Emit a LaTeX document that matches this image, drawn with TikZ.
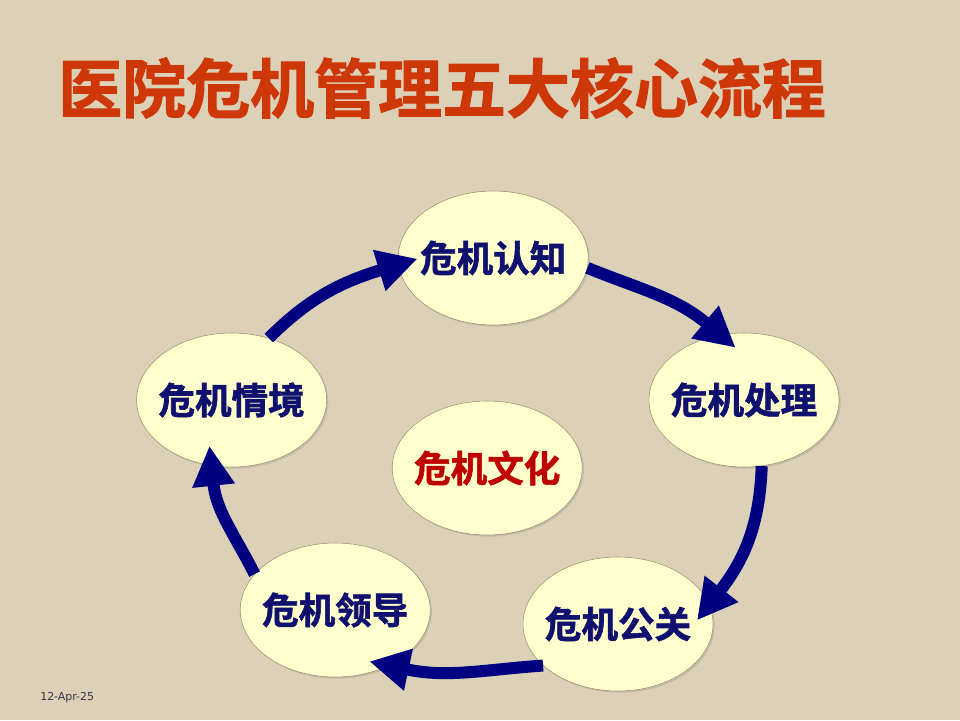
\documentclass[tikz,border=0pt]{standalone}
\usepackage{fontspec}
\newfontfamily\cjk{Noto Sans CJK SC Bold}[FakeBold=1.6]
\newfontfamily\datefont{DejaVu Sans}
\usetikzlibrary{arrows.meta,shapes.geometric,shadows}

\definecolor{bgsand}{RGB}{220,209,182}
\definecolor{paleyellow}{RGB}{255,255,206}
\definecolor{rimbrown}{RGB}{160,145,115}
\definecolor{inknavy}{RGB}{16,16,110}
\definecolor{arrownavy}{RGB}{0,0,128}
\definecolor{titlered}{RGB}{206,56,8}
\definecolor{corered}{RGB}{190,0,0}

% keep the label from widening the ellipse
\newcommand\stagelabel[1]{\makebox[0pt]{#1}}

\begin{document}
\begin{tikzpicture}[
        stage/.style={ellipse, draw=rimbrown, thin, fill=paleyellow,
            minimum width=4.75cm, minimum height=3.35cm, inner sep=0pt,
            text=inknavy, font=\cjk\fontsize{26}{30}\selectfont,
            drop shadow={opacity=0.25, shadow xshift=1.2pt, shadow yshift=-1.2pt}},
        core/.style={stage, text=corered},
        flow/.style={-{Triangle[length=1cm, width=1cm]}, line width=0.3cm,
            draw=arrownavy, shorten >=-0.5cm}
    ]
        \fill[bgsand] (0,0) rectangle (24,18);
        \useasboundingbox (0,0) rectangle (24,18);

        % title
        \node[anchor=west, inner sep=0pt, text=titlered,
            font=\cjk\fontsize{45.5}{50}\selectfont] (title) at (1.45,15.8)
            {医院危机管理五大核心流程};

        % cycle
        \node[stage] (renzhi) at (12.33,11.55) {\stagelabel{危机认知}};
        \node[stage] (chuli) at (18.6,8.0) {\stagelabel{危机处理}};
        \node[stage] (gongguan) at (15.45,2.4) {\stagelabel{危机公关}};
        \node[stage] (lingdao) at (8.38,2.75) {\stagelabel{危机领导}};
        \node[stage] (qingjing) at (5.79,8.0) {\stagelabel{危机情境}};
        \node[core] (wenhua) at (12.18,6.3) {\stagelabel{危机文化}};

        \draw[flow] (qingjing.59) to[out=45, in=197] (renzhi.184);
        \draw[flow] (renzhi.-6) to[out=-22, in=140] (chuli.110);
        \draw[flow] (chuli.-75) to[out=-92, in=52] (gongguan.12);
        \draw[flow] (gongguan.209) to[out=184, in=-12] (lingdao.-46);
        \draw[flow] (lingdao.156) to[out=117, in=-84] (qingjing.253);

        % date
        \node[anchor=west, inner sep=0pt, text={rgb,255:red,52;green,52;blue,72},
            font=\datefont\fontsize{7.8}{9}\selectfont] (date) at (1.0,0.55) {12-Apr-25};
    \end{tikzpicture}
\end{document}
